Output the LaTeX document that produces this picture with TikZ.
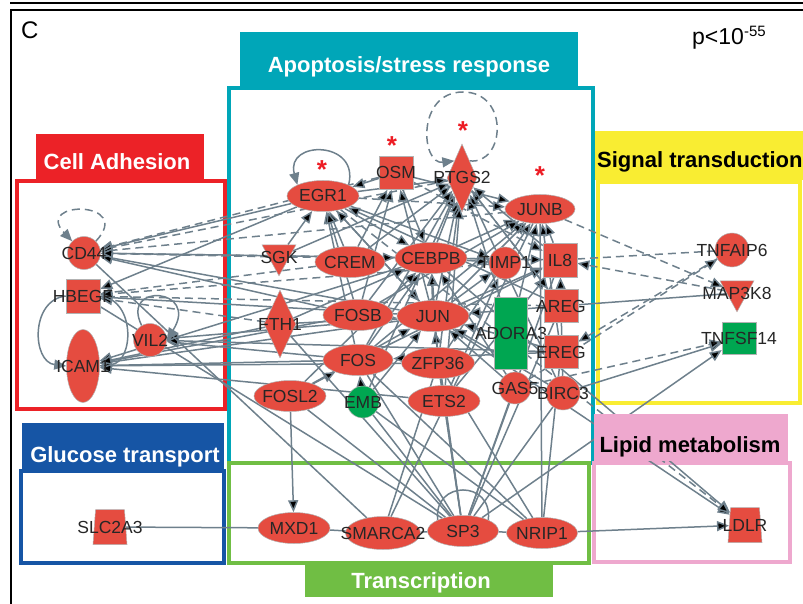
\documentclass[tikz,border=0pt]{standalone}
\usepackage{fontspec}
\setmainfont{Liberation Sans}
\usetikzlibrary{shapes.geometric,arrows.meta}

\definecolor{genered}{RGB}{229,76,64}
\definecolor{genegreen}{RGB}{0,166,81}
\definecolor{edgecol}{RGB}{110,128,140}
\definecolor{apoteal}{RGB}{0,166,184}
\definecolor{adhred}{RGB}{236,34,39}
\definecolor{glublue}{RGB}{22,85,165}
\definecolor{sigyellow}{RGB}{249,237,50}
\definecolor{lippink}{RGB}{238,168,206}
\definecolor{trgreen}{RGB}{112,190,68}
\definecolor{sigred}{RGB}{237,28,36}

\pgfdeclarelayer{frames}
\pgfdeclarelayer{edges}
\pgfsetlayers{frames,edges,main}

\newcommand{\genefont}{\fontsize{17.5}{17.5}\selectfont}
\newcommand{\tagfont}{\bfseries\fontsize{22}{22}\selectfont}
\newcommand{\gn}[1]{\makebox[0pt]{#1}}

\begin{document}
\begin{tikzpicture}
    [x=1pt, y=-1pt,
     gene/.style = {draw=black!30, line width=0.5pt, fill=genered, inner sep=0pt,
                    font=\genefont, text=black!85, text height=12pt, text depth=0pt},
     oval/.style = {gene, ellipse, minimum width=72pt, minimum height=31pt},
     ball/.style = {gene, circle, minimum size=33pt},
     sq/.style = {gene, rectangle, minimum width=34pt, minimum height=34pt},
     dia/.style = {gene, diamond, minimum width=30pt, minimum height=68pt},
     tri/.style = {gene, isosceles triangle, isosceles triangle stretches,
                   shape border rotate=270, minimum width=34pt, minimum height=31pt},
     trap/.style = {gene, trapezium, trapezium left angle=78, trapezium right angle=78,
                    trapezium stretches body, minimum width=34pt, minimum height=35pt},
     frame/.style = {line width=4pt},
     tag/.style = {font=\tagfont, text=white, anchor=base, inner sep=0pt},
     sig/.style = {text=sigred, font=\bfseries\fontsize{26}{26}\selectfont, inner sep=0pt},
     ln/.style = {draw=edgecol, line width=1.5pt},
     dln/.style = {ln, dash pattern=on 8pt off 5pt},
     arr/.style = {ln, -{Triangle[length=12pt,width=10pt]}},
     darr/.style = {dln, -{Triangle[length=12pt,width=10pt]}}]

    \useasboundingbox (0,0) rectangle (803,604);

    % panel frame and group boxes
    \begin{pgfonlayer}{frames}
    \draw[line width=1.5pt] (10,3) -- (803,3);
    \draw[line width=2.5pt] (803,10) -- (11,10) -- (11,604);
    \draw[frame, apoteal] (229,88) rectangle (593,463);
    \draw[frame, adhred] (17,181) rectangle (225,409);
    \draw[frame, glublue] (21,471) rectangle (224,563);
    \draw[frame, sigyellow] (598,182) rectangle (800,403);
    \draw[frame, lippink] (594,463) rectangle (790,562);
    \draw[frame, trgreen] (229,463) rectangle (589,563);
    \end{pgfonlayer}

    \fill[apoteal] (240,32) rectangle (578,86);
    \fill[adhred] (36,134) rectangle (204,179);
    \fill[glublue] (22,423) rectangle (224,469);
    \fill[sigyellow] (595,131) rectangle (803,180);
    \fill[lippink] (594,414) rectangle (788,461);
    \fill[trgreen] (305,565) rectangle (553,597);

    \node[tag] (apoTag) at (409,73) {Apoptosis/stress response};
    \node[tag] (adhTag) at (117,170) {Cell Adhesion};
    \node[tag] (gluTag) at (125,462) {Glucose transport};
    \node[tag, text=black, anchor=base west] (sigTag) at (597,168) {Signal transduction};
    \node[tag, text=black] (lipTag) at (690,452) {Lipid metabolism};
    \node[tag] (trTag) at (421,588) {Transcription};

    \node[anchor=base west, inner sep=0pt, font=\fontsize{24}{24}\selectfont] (panel) at (21,39) {C};
    \node[anchor=base west, inner sep=0pt, font=\fontsize{23}{23}\selectfont] (pval) at (692,45)
        {p<10\raisebox{8pt}{\fontsize{15}{15}\selectfont -55}};

    % cell adhesion
    \node[ball] (CD44) at (84,253) {\gn{CD44}};
    \node[sq] (HBEGF) at (83,296) {\gn{HBEGF}};
    \node[oval, minimum width=33pt, minimum height=73pt] (ICAM1) at (83,366) {\gn{ICAM1}};
    \node[ball] (VIL2) at (150,340) {\gn{VIL2}};

    % apoptosis / stress response
    \node[oval] (EGR1) at (323,196) {\gn{EGR1}};
    \node[sq, minimum height=33pt] (OSM) at (396,173) {\gn{OSM}};
    \node[dia] (PTGS2) at (462,178) {\gn{PTGS2}};
    \node[oval, minimum width=70pt, minimum height=29pt] (JUNB) at (540,209) {\gn{JUNB}};
    \node[tri] (SGK) at (279,257) {\gn{SGK}};
    \node[oval, minimum width=70pt] (CREM) at (350,262) {\gn{CREM}};
    \node[oval] (CEBPB) at (431,258) {\gn{CEBPB}};
    \node[ball, minimum size=32pt] (TIMP1) at (505,263) {\gn{TIMP1}};
    \node[sq] (IL8) at (560,260) {\gn{IL8}};
    \node[dia, minimum width=32pt] (FTH1) at (280,324) {\gn{FTH1}};
    \node[oval, minimum width=70pt] (FOSB) at (358,315) {\gn{FOSB}};
    \node[oval] (JUN) at (433,316) {\gn{JUN}};
    \node[sq, fill=genegreen, minimum width=33pt, minimum height=72pt] (ADORA3) at (511,333) {\gn{ADORA3}};
    \node[sq, minimum height=33pt] (AREG) at (561,306) {\gn{AREG}};
    \node[sq, minimum height=33pt] (EREG) at (561,352) {\gn{EREG}};
    \node[oval, minimum width=70pt] (FOS) at (358,360) {\gn{FOS}};
    \node[oval, minimum width=73pt] (ZFP36) at (438,363) {\gn{ZFP36}};
    \node[oval] (FOSL2) at (290,396) {\gn{FOSL2}};
    \node[ball, fill=genegreen, minimum size=32pt] (EMB) at (363,402) {\gn{EMB}};
    \node[oval] (ETS2) at (444,401) {\gn{ETS2}};
    \node[ball, minimum size=32pt] (GAS5) at (515,388) {\gn{GAS5}};
    \node[ball, minimum size=34pt] (BIRC3) at (563,393) {\gn{BIRC3}};

    % signal transduction
    \node[ball, minimum size=34pt] (TNFAIP6) at (732,250) {\gn{TNFAIP6}};
    \node[tri] (MAP3K8) at (737,293) {\gn{MAP3K8}};
    \node[sq, fill=genegreen, minimum height=32pt] (TNFSF14) at (739,338) {\gn{TNFSF14}};

    % glucose transport, transcription, lipid metabolism
    \node[trap] (SLC2A3) at (110,527) {\gn{SLC2A3}};
    \node[oval] (MXD1) at (294,528) {\gn{MXD1}};
    \node[oval, minimum width=75pt, minimum height=33pt] (SMARCA2) at (383,533) {\gn{SMARCA2}};
    \node[oval, minimum width=71pt] (SP3) at (463,531) {\gn{SP3}};
    \node[oval, minimum width=71pt] (NRIP1) at (542,533) {\gn{NRIP1}};
    \node[trap] (LDLR) at (745,525) {\gn{LDLR}};

    % marks
    \node[sig] (sigEGR1) at (322,170) {*};
    \node[sig] (sigOSM) at (392,146) {*};
    \node[sig] (sigPTGS2) at (463,131) {*};
    \node[sig] (sigJUNB) at (540,176) {*};

    \begin{pgfonlayer}{edges}
    % self loops
    \draw[darr] (CD44.45) .. controls (135,200) and (33,200) .. (CD44.135);
    \draw[arr] (HBEGF.west) .. controls (30,300) and (32,362) .. (ICAM1.west);
    \draw[arr] (HBEGF.east) .. controls (136,300) and (134,362) .. (ICAM1.east);
    \draw[arr] (VIL2.120) .. controls (120,282) and (200,288) .. (VIL2.east);
    \draw[arr] (EGR1.north east) .. controls (360,140) and (285,140) .. (EGR1.north west);
    \draw[darr] (PTGS2.north east) .. controls (505,165) and (510,92) .. (463,92)
                .. controls (416,92) and (421,165) .. (PTGS2.north west);
    \draw[ln] (SP3.north west) .. controls (433,480) and (493,480) .. (SP3.north east);

    % into cell adhesion
    \path[arr] (EGR1) edge (CD44) edge (HBEGF);
    \path[arr] (CEBPB) edge (CD44) edge (ICAM1);
    \path[arr] (JUN) edge (CD44) edge (HBEGF) edge (ICAM1) edge (VIL2);
    \path[arr] (FOSB) edge (CD44) edge (ICAM1);
    \path[arr] (FOS) edge (ICAM1) edge (VIL2);
    \path[arr] (ZFP36) edge (ICAM1);
    \path[arr] (FTH1) edge (ICAM1);
    \path[arr] (ETS2) edge (ICAM1);
    \path[arr] (EREG) edge (VIL2);
    \path[darr] (OSM) edge (CD44);
    \path[darr] (PTGS2) edge (CD44);
    \path[darr] (JUNB) edge (CD44);
    \path[darr] (SGK) edge (CD44);
    \path[darr] (IL8) edge (CD44);
    \path[darr] (CREM) edge (HBEGF);
    \path[darr] (FTH1) edge (HBEGF);
    \path[darr] (AREG) edge (HBEGF);
    \path[darr] (TIMP1) edge (HBEGF);
    \path[ln] (CD44) edge (SMARCA2);
    \path[ln] (HBEGF) edge (SP3);

    % apoptosis / stress response web
    \path[arr] (EGR1) edge (PTGS2) edge (CEBPB) edge (JUN) edge (TIMP1);
    \path[arr] (OSM) edge (JUNB) edge (CEBPB) edge (EGR1);
    \path[arr] (CREM) edge (PTGS2) edge (OSM) edge (EGR1);
    \path[arr] (CEBPB) edge (PTGS2) edge (JUNB) edge (IL8) edge (TIMP1);
    \path[arr] (JUN) edge (PTGS2) edge (JUNB) edge (IL8) edge (TIMP1) edge (CEBPB) edge (EGR1) edge (OSM);
    \path[arr] (FOS) edge (PTGS2) edge (JUNB) edge (IL8) edge (EGR1) edge (CEBPB);
    \path[arr] (FOSB) edge (PTGS2) edge (EGR1) edge (OSM) edge (JUNB);
    \path[arr] (ZFP36) edge (PTGS2) edge (JUNB) edge (CEBPB);
    \path[arr] (SGK) edge (PTGS2) edge (EGR1);
    \path[arr] (FTH1) edge (JUN) edge (CEBPB);
    \path[arr] (FOSL2) edge (JUN) edge (FOS) edge (CEBPB) edge (MXD1);
    \path[arr] (EMB) edge (FOS) edge (JUN) edge (PTGS2);
    \path[arr] (ETS2) edge (JUN) edge (TIMP1) edge (PTGS2) edge (IL8);
    \path[arr] (GAS5) edge (JUN) edge (CEBPB);
    \path[arr] (BIRC3) edge (JUN) edge (IL8) edge (PTGS2);
    \path[arr] (AREG) edge (JUN) edge (EGR1) edge (PTGS2);
    \path[arr] (EREG) edge (JUN) edge (FOS) edge (JUNB);
    \path[arr] (ADORA3) edge (PTGS2) edge (JUNB);
    \path[arr] (IL8) edge (PTGS2) edge (JUNB);
    \path[darr] (EGR1) edge (JUNB);
    \path[darr] (SGK) edge (CEBPB);
    \path[darr] (OSM) edge (IL8);
    \path[darr] (PTGS2) edge (AREG);

    % signal transduction
    \path[dln] (TNFAIP6) edge (IL8);
    \path[darr] (MAP3K8) edge (IL8);
    \path[darr] (JUNB) edge (MAP3K8);
    \path[darr] (TNFAIP6) edge (EREG);
    \path[darr] (GAS5) edge (TNFAIP6);
    \path[ln] (AREG) edge (MAP3K8);
    \path[arr] (BIRC3) edge (TNFSF14);
    \path[darr] (GAS5) edge (TNFSF14);
    \path[arr] (SP3) edge (TNFSF14);

    % lipid metabolism
    \path[arr] (JUN) edge (LDLR);
    \path[arr] (CEBPB) edge (LDLR);
    \path[darr] (EGR1) edge (LDLR);
    \path[arr] (NRIP1) edge (LDLR);

    % transcription
    \path[ln] (SLC2A3) edge (MXD1);
    \path[ln] (MXD1) edge (SMARCA2);
    \path[ln] (SMARCA2) edge (SP3);
    \path[ln] (SP3) edge (NRIP1);
    \path[ln] (SP3) edge (EMB) edge (ETS2) edge (JUN) edge (ZFP36) edge (GAS5) edge (BIRC3)
                    edge (IL8) edge (AREG) edge (FOS) edge (FOSL2) edge (FTH1);
    \path[ln] (NRIP1) edge (ZFP36) edge (FOS) edge (EREG) edge (JUNB) edge (EMB);
    \path[ln] (SMARCA2) edge (ZFP36) edge (JUNB);
    \end{pgfonlayer}

\end{tikzpicture}
\end{document}
